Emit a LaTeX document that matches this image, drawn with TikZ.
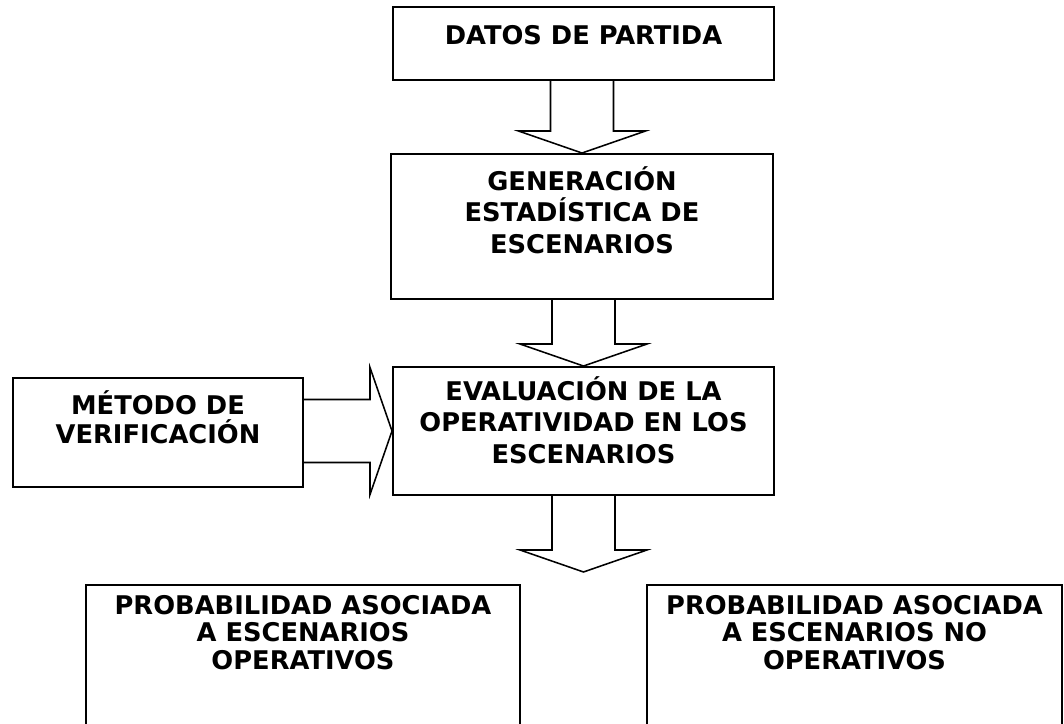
\documentclass[tikz,border=0pt]{standalone}
\usepackage{fontspec}
\newfontfamily\cajafont{DejaVu Sans}
\usetikzlibrary{calc}
\tikzset{
  caja/.style={draw,line width=1.4pt,inner sep=0pt},
  texto/.style={anchor=north,align=center,inner sep=0pt,font=\cajafont\bfseries\fontsize{18.3}{#1}\selectfont},
  texto/.default=21pt,
  flecha/.style={draw,line width=1.1pt,line join=miter}
}
\newcommand{\anchoc}{0.7875cm}
\newcommand{\anchop}{1.5875cm}
\newcommand{\largop}{0.55cm}
\newcommand{\flechaabajo}[2]{\draw[flecha] let \p1=(#2), \p2=(#1.south) in (\x1-\anchoc,\y2) -- (\x1-\anchoc,\y1+\largop) -- (\x1-\anchop,\y1+\largop) -- (\p1) -- (\x1+\anchop,\y1+\largop) -- (\x1+\anchoc,\y1+\largop) -- (\x1+\anchoc,\y2);}
\begin{document}
\begin{tikzpicture}
      \path[use as bounding box,clip] (0,0) rectangle (26.6,-18.1);
      \node[caja,minimum width=9.525cm,minimum height=1.825cm] (datos) at (14.5875,-1.0875) {};
      \node[caja,minimum width=9.55cm,minimum height=3.625cm] (gen) at (14.55,-5.6625) {};
      \node[caja,minimum width=9.525cm,minimum height=3.2cm] (eval) at (14.5875,-10.775) {};
      \node[caja,minimum width=7.25cm,minimum height=2.725cm] (metodo) at (3.95,-10.8125) {};
      \node[caja,minimum width=10.85cm,minimum height=4.5cm] (opera) at (7.575,-16.875) {};
      \node[caja,minimum width=10.375cm,minimum height=4.5cm] (noopera) at (21.3625,-16.875) {};
      \node[texto] (datos-t) at ($(datos.north)+(0,-0.35)$) {\rule{0pt}{17pt}DATOS DE PARTIDA};
      \node[texto=22.5pt] (gen-t) at ($(gen.north)+(0,-0.325)$) {\rule{0pt}{17pt}GENERACIÓN\\ESTADÍSTICA DE\\ESCENARIOS};
      \node[texto=22.5pt] (eval-t) at ($(eval.north)+(0,-0.25)$) {\rule{0pt}{17pt}EVALUACIÓN DE LA\\OPERATIVIDAD EN LOS\\ESCENARIOS};
      \node[texto=20.5pt] (metodo-t) at ($(metodo.north)+(0,-0.325)$) {\rule{0pt}{17pt}MÉTODO DE\\VERIFICACIÓN};
      \node[texto=19.7pt] (opera-t) at ($(opera.north)+(0,-0.15)$) {\rule{0pt}{17pt}PROBABILIDAD ASOCIADA\\A ESCENARIOS\\OPERATIVOS};
      \node[texto=19.7pt] (noopera-t) at ($(noopera.north)+(0,-0.15)$) {\rule{0pt}{17pt}PROBABILIDAD ASOCIADA\\A ESCENARIOS NO\\OPERATIVOS};
      \coordinate (fin) at ($(eval.south)+(0,-1.9)$);
      \flechaabajo{datos}{gen.north}
      \flechaabajo{gen}{eval.north}
      \flechaabajo{eval}{fin}
      \draw[flecha] let \p1=(eval.west), \p2=(metodo.east) in (\x2,\y1+\anchoc) -- (\x1-\largop,\y1+\anchoc) -- (\x1-\largop,\y1+\anchop) -- (\p1) -- (\x1-\largop,\y1-\anchop) -- (\x1-\largop,\y1-\anchoc) -- (\x2,\y1-\anchoc);
    \end{tikzpicture}
\end{document}
